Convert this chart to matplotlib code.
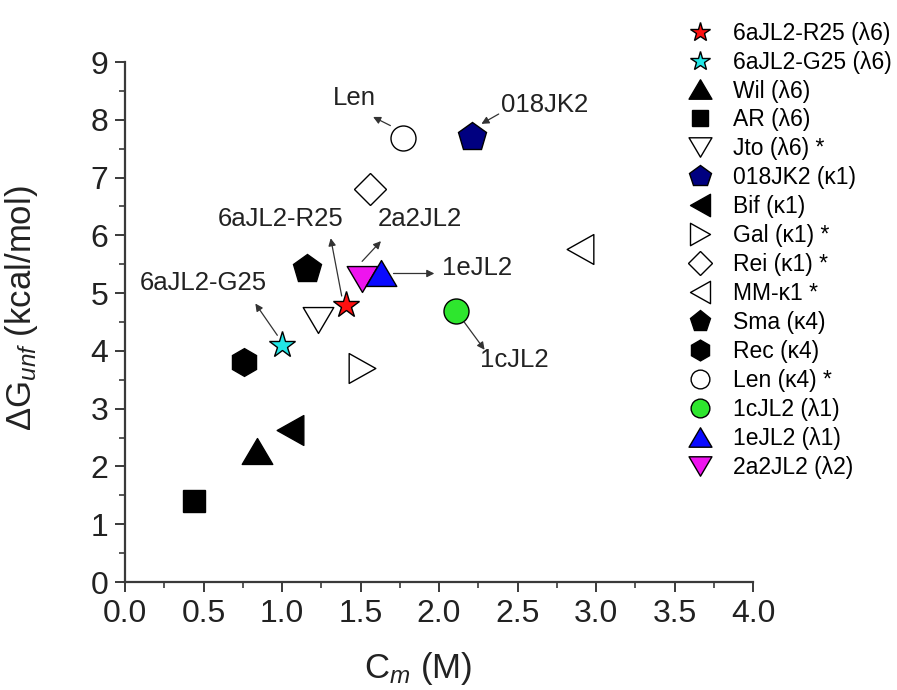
import matplotlib
matplotlib.use("Agg")
import matplotlib.pyplot as plt
from matplotlib.path import Path
from matplotlib.ticker import MultipleLocator

plt.rcParams["font.family"] = ["Liberation Sans", "DejaVu Sans"]
plt.rcParams["mathtext.fontset"] = "custom"
plt.rcParams["mathtext.rm"] = "Liberation Sans"
plt.rcParams["mathtext.it"] = "Liberation Sans:italic"

# ── data ────────────────────────────────────────────────────────────────────
labels = ["6aJL2-R25 (λ6)", "6aJL2-G25 (λ6)", "Wil (λ6)", "AR (λ6)", "Jto (λ6) *",
          "018JK2 (κ1)", "Bif (κ1)", "Gal (κ1) *", "Rei (κ1) *", "MM-κ1 *",
          "Sma (κ4)", "Rec (κ4)", "Len (κ4) *", "1cJL2 (λ1)", "1eJL2 (λ1)",
          "2a2JL2 (λ2)"]
cm = [1.41, 1.00, 0.84, 0.44, 1.23, 2.21, 1.05, 1.51, 1.56, 2.90,
      1.16, 0.76, 1.77, 2.11, 1.63, 1.51]
dg = [4.79, 4.11, 2.26, 1.41, 4.54, 7.70, 2.63, 3.70, 6.80, 5.77,
      5.41, 3.80, 7.69, 4.69, 5.35, 5.25]


# ── marker styles ───────────────────────────────────────────────────────────
def tri(pts):
    # closed triangle path, centred on its bounding box
    return Path(pts + [(0, 0)], [Path.MOVETO, Path.LINETO, Path.LINETO, Path.CLOSEPOLY])


UP = tri([(0, 1), (-1.18, -1), (1.18, -1)])
DOWN = tri([(0, -1), (-1.18, 1), (1.18, 1)])
LEFT = tri([(-1, 0), (1, 1.12), (1, -1.12)])
RIGHT = tri([(1, 0), (-1, 1.12), (-1, -1.12)])
styles = [
    ("*", 19.5, "#ff1010"),
    ("*", 19.5, "#22e6e6"),
    (UP, 22, "black"),
    ("s", 16, "black"),
    (DOWN, 22, "white"),
    ("p", 21.5, "#000080"),
    (LEFT, 21.5, "black"),
    (RIGHT, 21.5, "white"),
    ("D", 16, "white"),
    (LEFT, 21.5, "white"),
    ("p", 21, "black"),
    ("h", 20, "black"),
    ("o", 18, "white"),
    ("o", 18, "#2ee62e"),
    (UP, 22, "#0a0aff"),
    (DOWN, 22, "#ee14ee"),
]
zorders = [5, 5, 3, 3, 3, 3, 3, 3, 3, 3, 3, 3, 3, 3, 5, 4]

# annotations: text, text pos, arrow tail, arrow head (data coords)
notes = [
    ("Len", (1.46, 8.37), (1.69, 7.90), (1.58, 8.05)),
    ("018JK2", (2.67, 8.25), (2.38, 8.10), (2.27, 7.93)),
    ("6aJL2-R25", (0.99, 6.29), (1.38, 4.95), (1.31, 5.95)),
    ("2a2JL2", (1.88, 6.28), (1.51, 5.55), (1.63, 5.90)),
    ("1eJL2", (2.24, 5.44), (1.71, 5.34), (1.97, 5.34)),
    ("6aJL2-G25", (0.50, 5.17), (0.97, 4.27), (0.83, 4.82)),
    ("1cJL2", (2.48, 3.84), (2.16, 4.50), (2.29, 4.02)),
]

fig = plt.figure(figsize=(8.97, 6.90), dpi=100)
ax = fig.add_axes([0.1394, 0.1565, 0.7001, 0.7536])

for lab, x, y, (mk, ms, fc), z in zip(labels, cm, dg, styles, zorders):
    ax.plot(x, y, linestyle="none", marker=mk, markersize=ms,
            markerfacecolor=fc, markeredgecolor="black", markeredgewidth=1.0,
            label=lab, zorder=z)

for txt, tpos, tail, head in notes:
    ax.text(tpos[0], tpos[1], txt, fontsize=18.5, ha="center", va="center",
            color="#222222")
    ax.annotate("", xy=head, xytext=tail,
                arrowprops=dict(arrowstyle="-|>", lw=0.9, color="#333333",
                                mutation_scale=11, shrinkA=0, shrinkB=0))

ax.set_xlim(0, 4)
ax.set_ylim(0, 9)
ax.xaxis.set_major_locator(MultipleLocator(0.5))
ax.xaxis.set_minor_locator(MultipleLocator(0.25))
ax.yaxis.set_major_locator(MultipleLocator(1))
ax.yaxis.set_minor_locator(MultipleLocator(0.5))
ax.xaxis.set_major_formatter(plt.FormatStrFormatter("%.1f"))

for side in ["top", "right"]:
    ax.spines[side].set_visible(False)
for side in ["left", "bottom"]:
    ax.spines[side].set_linewidth(1.6)
    ax.spines[side].set_color("#3a3a3a")
ax.tick_params(which="major", length=7, width=1.4, color="#3a3a3a",
               labelsize=23, labelcolor="#222222", pad=5)
ax.tick_params(which="minor", length=4, width=1.2, color="#3a3a3a")

ax.set_xlabel(r"C$_{m}$ (M)", fontsize=25, color="#222222")
ax.set_ylabel(r"$\Delta$G$_{unf}$ (kcal/mol)", fontsize=25, color="#222222")
ax.xaxis.set_label_coords(0.467, -0.13)
ax.yaxis.set_label_coords(-0.135, 0.527)

ax.legend(loc="upper left", bbox_to_anchor=(0.7676, 0.9687),
          bbox_transform=fig.transFigure, frameon=False, fontsize=16.5,
          markerscale=0.75, handlelength=1.0, handletextpad=0.94,
          labelspacing=0.26, borderpad=0, borderaxespad=0, numpoints=1)

fig.savefig("out.png", dpi=100)
